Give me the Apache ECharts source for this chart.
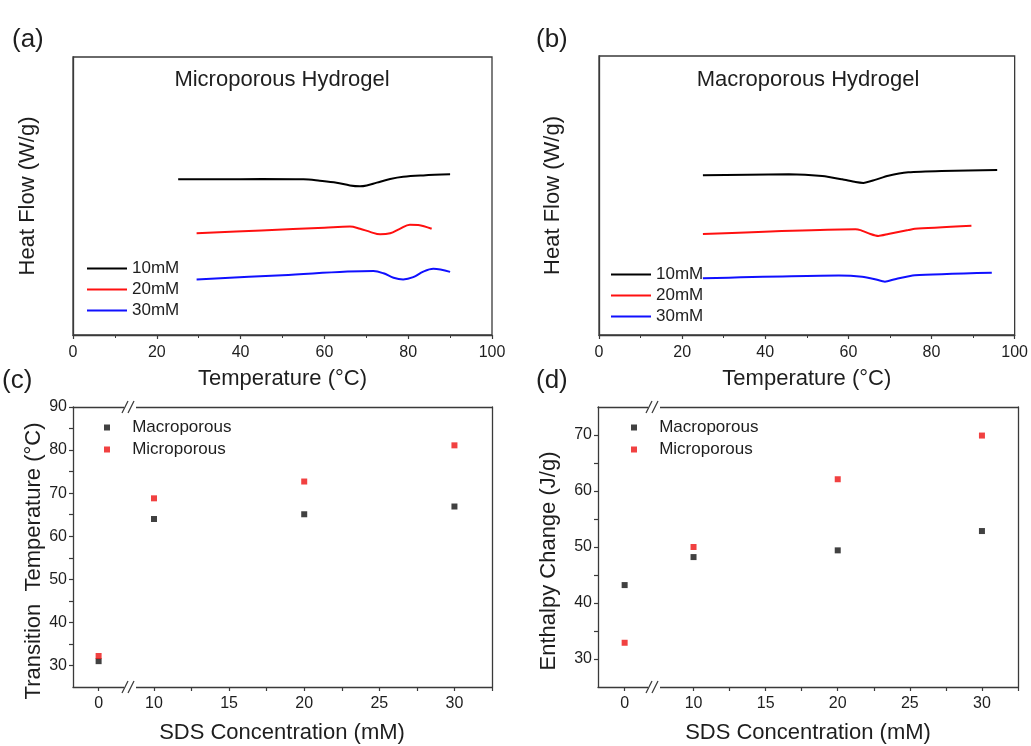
<!DOCTYPE html>
<html><head><meta charset="utf-8">
<script src="https://cdn.jsdelivr.net/npm/echarts@6/dist/echarts.min.js"></script>
<style>html,body{margin:0;padding:0;background:#fff}#c{width:1031px;height:746px}</style>
</head><body><div id="c"></div>
<script>
// ---- Data ----
const seriesNames = ['10mM', '20mM', '30mM'];
// (a) Microporous hydrogel DSC curves (temperature °C, heat flow arbitrary units)
const microT10 = [25.1, 35, 45, 55, 58.9, 62.9, 66.1, 68.5, 70.1, 72.5, 75.7, 78.8, 83.6, 90];
const microH10 = [56.0, 56.0, 56.1, 56.0, 55.5, 54.8, 53.8, 53.5, 53.8, 54.8, 56.1, 56.9, 57.4, 57.8];
const microT20 = [29.5, 45, 60, 66.1, 68.5, 70.9, 73.3, 75.7, 78, 80.4, 82.4, 85.6];
const microH20 = [36.6, 37.6, 38.6, 39.0, 38.2, 37.1, 36.2, 36.6, 38.2, 39.7, 39.6, 38.2];
const microT30 = [29.5, 50, 71.7, 74.1, 76.5, 78.8, 81.2, 83.6, 86, 90];
const microH30 = [20.0, 21.5, 23.0, 22.2, 20.6, 20.0, 20.8, 22.8, 23.8, 22.7];
// (b) Macroporous hydrogel DSC curves
const macroT10 = [25, 45.7, 53.7, 58.5, 61.7, 63.6, 66.4, 69.6, 74.4, 82.4, 95.8];
const macroH10 = [57.3, 57.6, 57.0, 55.8, 54.8, 54.5, 55.6, 57.1, 58.3, 58.8, 59.1];
const macroT20 = [25, 61.7, 62.9, 65.3, 67.2, 69.6, 74.4, 76, 89.6];
const macroH20 = [36.2, 37.9, 37.6, 36.2, 35.5, 36.2, 37.6, 38.1, 39.2];
const macroT30 = [25, 57.7, 63.3, 66.4, 68.8, 71.2, 76, 94.5];
const macroH30 = [20.3, 21.3, 20.9, 20.0, 19.1, 20.0, 21.4, 22.3];
// (c),(d) scatter data
const sdsConc = [0, 10, 20, 30];
const transTempMacro = [31.0, 64.0, 65.1, 66.9];
const transTempMicro = [32.2, 68.8, 72.7, 81.1];
const enthalpyMacro = [43.2, 48.2, 49.4, 52.85];
const enthalpyMicro = [32.9, 50.0, 62.1, 69.9];
// tick labels
const tempTicks = [0, 20, 40, 60, 80, 100];
const sdsLabelsLeft = [0];
const sdsLabelsRight = [10, 15, 20, 25, 30];
const sdsTicksRight = [10, 12.5, 15, 17.5, 20, 22.5, 25, 27.5, 30, 32.5];
const tempYLabels = [30, 40, 50, 60, 70, 80, 90];
const tempYTicks = [30, 35, 40, 45, 50, 55, 60, 65, 70, 75, 80, 85, 90];
const enthYLabels = [30, 40, 50, 60, 70];
const enthYTicks = [30, 35, 40, 45, 50, 55, 60, 65, 70];

// ---- Styles ----
const FONT = 'Liberation Sans, Arial, sans-serif';
const AXC = '#3a3a3a';
const TXT = '#1e1e1e';
const colors = ['#000000', '#ff1010', '#1010ff'];
const BREAK_X = 4.5; // split value between left and right x-segments

const zip = (a, b) => a.map((v, i) => [v, b[i]]);
const axisLine = { show: true, onZero: false, lineStyle: { color: AXC, width: 1.3 } };
const noAxis = { show: false };
const labelStyle = { color: TXT, fontSize: 16, fontFamily: FONT };
const nameStyle = { color: TXT, fontSize: 22, fontFamily: FONT };
const frameGrid = { show: true, borderColor: AXC, borderWidth: 1.3, backgroundColor: 'transparent' };

const grids = [
  Object.assign({ left: 73, top: 57, width: 419, height: 278 }, frameGrid),
  Object.assign({ left: 599, top: 56, width: 418, height: 279 }, frameGrid),
  { left: 73, top: 407, width: 55, height: 280 },
  { left: 128, top: 407, width: 364, height: 280 },
  { left: 598, top: 407, width: 54, height: 280 },
  { left: 652, top: 407, width: 366, height: 280 }
];

function tempXAxis(gi) {
  return {
    type: 'value', gridIndex: gi, position: 'bottom', min: 0, max: 100, interval: 20,
    axisLine, axisTick: { show: true, length: 4, lineStyle: { color: AXC, width: 1.2 } },
    minorTick: { show: true, splitNumber: 2, length: 3, lineStyle: { color: AXC, width: 1 } },
    splitLine: { show: false }, minorSplitLine: { show: false },
    axisLabel: Object.assign({ margin: 10, customValues: tempTicks }, labelStyle),
    name: 'Temperature (°C)', nameLocation: 'middle', nameGap: 33, nameTextStyle: nameStyle
  };
}
function frameAxis(gi, pos, min, max) {
  return { type: 'value', gridIndex: gi, position: pos, min, max, axisLine,
    axisTick: noAxis, axisLabel: noAxis, splitLine: noAxis };
}
function segX(gi, min, max, ticks, labels, name, pad) {
  const ax = {
    type: 'value', gridIndex: gi, position: 'bottom', min, max,
    axisLine, axisTick: { show: true, length: 4, customValues: ticks, lineStyle: { color: AXC, width: 1.2 } },
    axisLabel: Object.assign({ margin: 9, customValues: labels }, labelStyle),
    splitLine: noAxis
  };
  if (name) Object.assign(ax, { name, nameLocation: 'middle', nameGap: 35,
    nameTextStyle: Object.assign({ padding: [0, pad, 0, 0] }, nameStyle) });
  return ax;
}
function segY(gi, min, max, ticks, labels, name, gap) {
  return {
    type: 'value', gridIndex: gi, position: 'left', min, max,
    axisLine, axisTick: { show: true, length: 4, customValues: ticks, lineStyle: { color: AXC, width: 1.2 } },
    axisLabel: Object.assign({ margin: 6, customValues: labels }, labelStyle),
    splitLine: noAxis,
    name, nameLocation: 'middle', nameGap: gap,
    nameTextStyle: Object.assign({ padding: [0, 28, 0, 0] }, nameStyle)
  };
}

const xAxis = [
  tempXAxis(0), tempXAxis(1),
  segX(2, -1.7, 1.95, sdsLabelsLeft, sdsLabelsLeft), frameAxis(2, 'top', -1.7, 1.95),
  segX(3, 8.27, 32.5, sdsTicksRight, sdsLabelsRight, 'SDS Concentration (mM)', 56), frameAxis(3, 'top', 8.27, 32.5),
  segX(4, -1.85, 1.9, sdsLabelsLeft, sdsLabelsLeft), frameAxis(4, 'top', -1.85, 1.9),
  segX(5, 7.12, 32.5, sdsTicksRight, sdsLabelsRight, 'SDS Concentration (mM)', 54), frameAxis(5, 'top', 7.12, 32.5)
];
const yAxis = [
  { type: 'value', gridIndex: 0, min: 0, max: 100, axisLine, axisTick: noAxis, axisLabel: noAxis, splitLine: noAxis,
    name: 'Heat Flow (W/g)', nameLocation: 'middle', nameGap: 34, nameTextStyle: nameStyle },
  { type: 'value', gridIndex: 1, min: 0, max: 100, axisLine, axisTick: noAxis, axisLabel: noAxis, splitLine: noAxis,
    name: 'Heat Flow (W/g)', nameLocation: 'middle', nameGap: 35, nameTextStyle: nameStyle },
  segY(2, 25, 90, tempYTicks, tempYLabels, 'Transition  Temperature (°C)', 28),
  frameAxis(3, 'right', 25, 90),
  segY(4, 25, 75, enthYTicks, enthYLabels, 'Enthalpy Change (J/g)', 38),
  frameAxis(5, 'right', 25, 75)
];

const lineSets = [
  [microT10, microH10, microT20, microH20, microT30, microH30],
  [macroT10, macroH10, macroT20, macroH20, macroT30, macroH30]
];
const series = [];
lineSets.forEach((set, gi) => {
  for (let k = 0; k < 3; k++) {
    series.push({
      type: 'line', name: seriesNames[k], xAxisIndex: gi, yAxisIndex: gi,
      data: zip(set[2 * k], set[2 * k + 1]), symbol: 'none', smooth: gi === 0 ? 0.35 : 0.2,
      lineStyle: { color: colors[k], width: 2 }, itemStyle: { color: colors[k] }
    });
  }
});
function scatterPair(name, vals, color, xl, yl, xr, yr) {
  const pts = zip(sdsConc, vals);
  const base = { type: 'scatter', name, symbol: 'rect', symbolSize: 6, itemStyle: { color } };
  series.push(Object.assign({}, base, { xAxisIndex: xl, yAxisIndex: yl, data: pts.filter(p => p[0] < BREAK_X) }));
  series.push(Object.assign({}, base, { xAxisIndex: xr, yAxisIndex: yr, data: pts.filter(p => p[0] >= BREAK_X) }));
}
scatterPair('Macroporous', transTempMacro, '#111111', 2, 2, 4, 3);
scatterPair('Microporous', transTempMicro, '#ee1111', 2, 2, 4, 3);
scatterPair('Macroporous', enthalpyMacro, '#111111', 6, 4, 8, 5);
scatterPair('Microporous', enthalpyMicro, '#ee1111', 6, 4, 8, 5);

const legTxt = { color: TXT, fontSize: 17, fontFamily: FONT };
const lineLeg = { orient: 'vertical', icon: 'rect', itemWidth: 40, itemHeight: 2, itemGap: 4,
  data: seriesNames, textStyle: legTxt, selectedMode: false };
const dotLeg = { orient: 'vertical', icon: 'rect', itemWidth: 6, itemHeight: 6, itemGap: 5,
  data: ['Macroporous', 'Microporous'], formatter: '   {name}',
  textStyle: Object.assign({ padding: [0, 0, 0, 3] }, legTxt), selectedMode: false };
const legend = [
  Object.assign({ left: 82, top: 255 }, lineLeg),
  Object.assign({ left: 606, top: 261, itemGap: 4.5 }, lineLeg),
  Object.assign({ left: 99, top: 414 }, dotLeg),
  Object.assign({ left: 626, top: 414 }, dotLeg)
];

function txt(text, x, y, size, align) {
  return { type: 'text', x, y, z: 100, style: { text, fill: TXT, font: size + 'px ' + FONT,
    textAlign: align || 'left', textVerticalAlign: 'middle' } };
}
function breakMark(x, y) {
  const ls = { stroke: AXC, lineWidth: 1.3 };
  return [
    { type: 'rect', z: 100, shape: { x: x - 6, y: y - 2, width: 12, height: 4 }, style: { fill: '#fff' } },
    { type: 'line', z: 101, shape: { x1: x - 8, y1: y + 6, x2: x - 2, y2: y - 6 }, style: ls },
    { type: 'line', z: 101, shape: { x1: x - 2, y1: y + 6, x2: x + 4, y2: y - 6 }, style: ls }
  ];
}
const graphic = [
  txt('(a)', 12, 40, 26), txt('(b)', 536, 40, 26), txt('(c)', 2, 381, 26), txt('(d)', 536, 381, 26),
  txt('Microporous Hydrogel', 282, 80, 22, 'center'), txt('Macroporous Hydrogel', 808, 80, 22, 'center')
].concat(breakMark(grids[3].left + 2, 407), breakMark(grids[3].left + 2, 687),
         breakMark(grids[5].left + 2, 407), breakMark(grids[5].left + 2, 687));

const chart = echarts.init(document.getElementById('c'), null, { renderer: 'canvas' });
chart.setOption({
  animation: false, backgroundColor: '#fff',
  grid: grids, xAxis, yAxis, series, legend, graphic
});
</script></body></html>
